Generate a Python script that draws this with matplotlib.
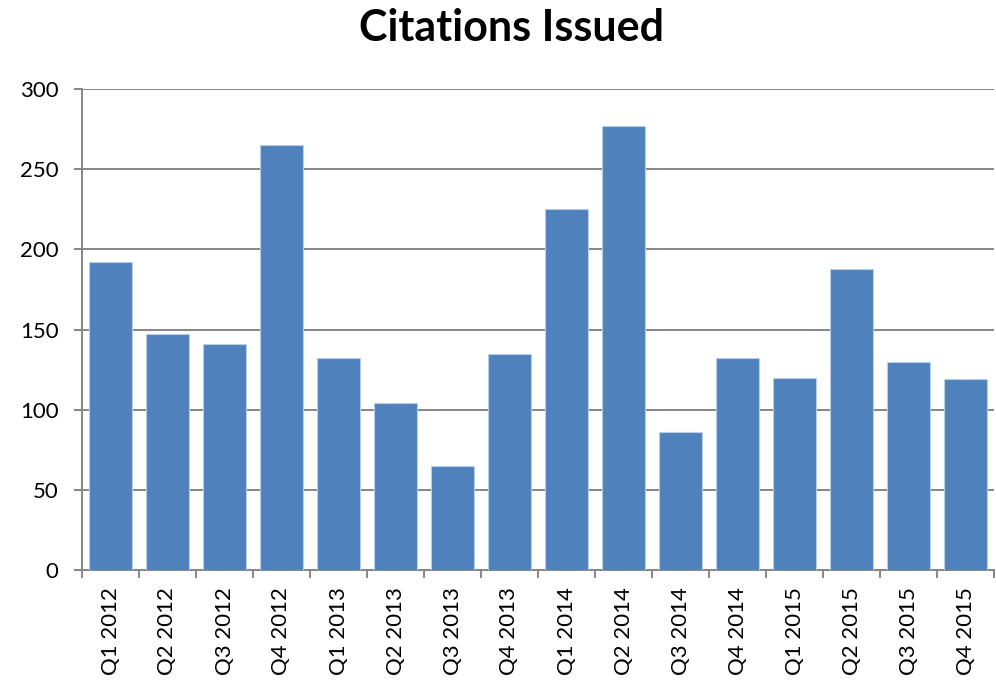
import matplotlib.pyplot as plt
import numpy as np

quarters = ['Q1 2012', 'Q2 2012', 'Q3 2012', 'Q4 2012',
            'Q1 2013', 'Q2 2013', 'Q3 2013', 'Q4 2013',
            'Q1 2014', 'Q2 2014', 'Q3 2014', 'Q4 2014',
            'Q1 2015', 'Q2 2015', 'Q3 2015', 'Q4 2015']
citations = [192, 147, 141, 265, 132, 104, 65, 135,
             225, 277, 86, 132, 120, 188, 130, 119]
y_ticks = [0, 50, 100, 150, 200, 250, 300]

plt.rcParams['font.family'] = ['Lato', 'DejaVu Sans']

fig = plt.figure(figsize=(9.96, 6.8), dpi=100)
ax = fig.add_axes([82 / 996, 110 / 680, 912 / 996, 481 / 680])

x = np.arange(len(quarters))
ax.bar(x, citations, width=0.74, color='#4F81BD', edgecolor='#B9CDE5', linewidth=0.8, zorder=3)

ax.set_xlim(-0.5, len(quarters) - 0.5)
ax.set_ylim(0, 300)
ax.set_yticks(y_ticks)
ax.yaxis.grid(True, color='#868686', linewidth=1.4, zorder=0)

# labels in the middle, tick marks on category boundaries
ax.set_xticks(x)
ax.set_xticklabels(quarters, rotation=90, fontsize=16)
ax.set_xticks(np.arange(-0.5, len(quarters)), minor=True)
ax.tick_params(axis='x', which='major', length=0, pad=12)
ax.tick_params(axis='x', which='minor', length=6, width=1.4, color='#868686')
ax.tick_params(axis='y', length=6, width=1.4, color='#868686', labelsize=16, pad=11)

for side in ['top', 'right']:
    ax.spines[side].set_visible(False)
for side in ['left', 'bottom']:
    ax.spines[side].set_color('#868686')
    ax.spines[side].set_linewidth(1.4)

fig.text(511 / 996, 1 - 28 / 680, 'Citations Issued', ha='center', va='center',
         fontsize=31, fontweight='bold')

fig.savefig('out.png', dpi=100)
